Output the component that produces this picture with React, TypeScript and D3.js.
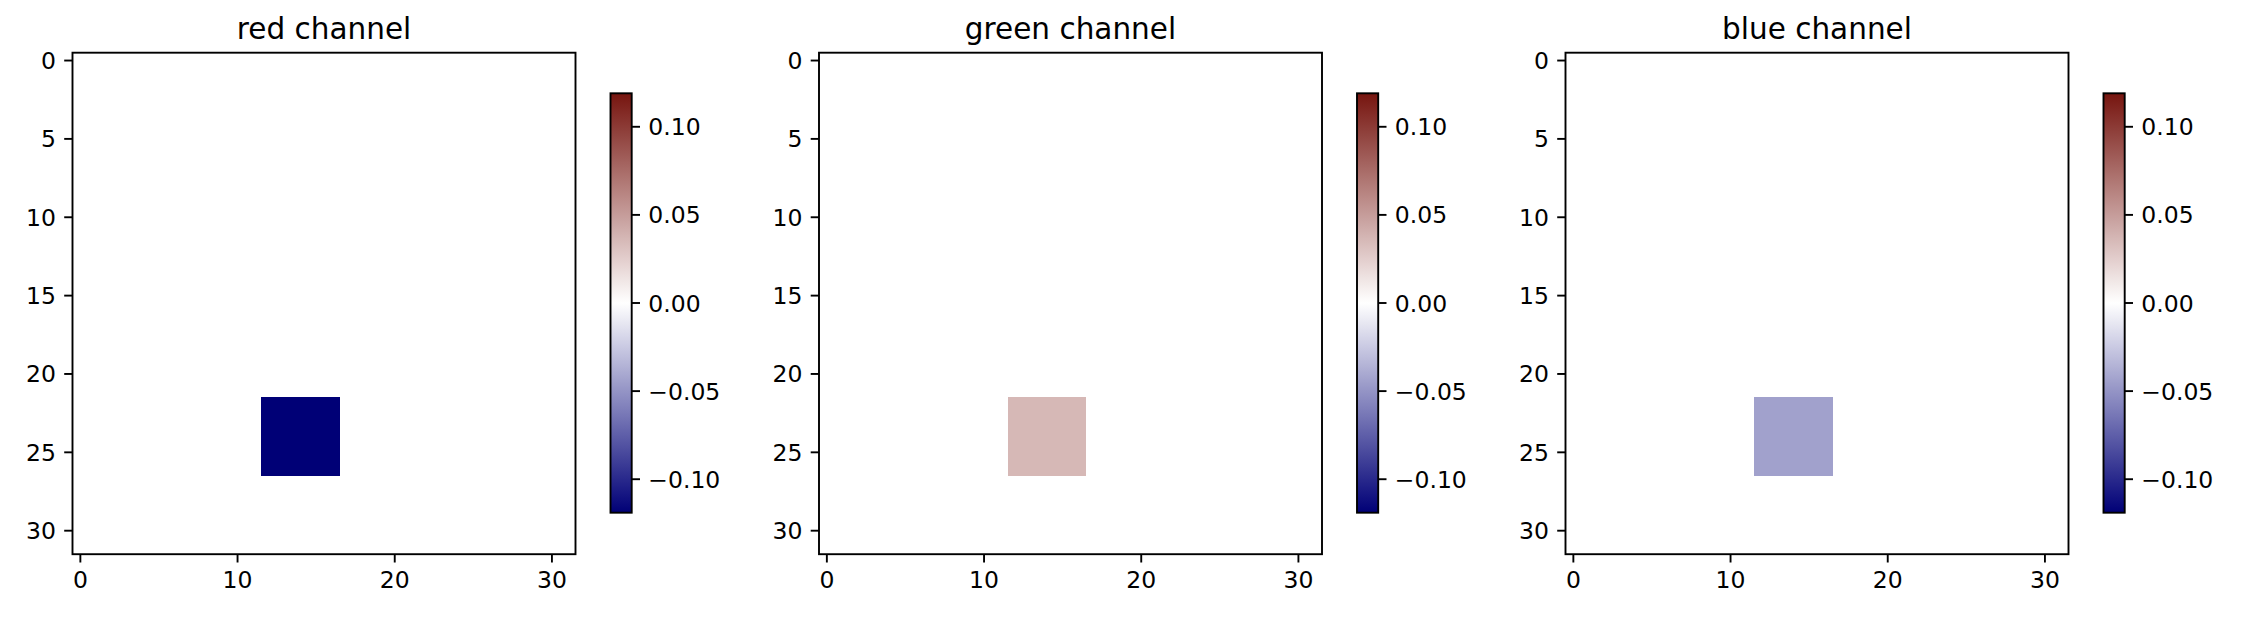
import React from "react";
import * as d3 from "d3";

// ---- data ----
const channels = ["red channel", "green channel", "blue channel"];
const patchValues = [-0.119, 0.036, -0.044]; // value inside the patch, per channel
const gridSize = 32;
const patchRows = [22, 23, 24, 25, 26];
const patchCols = [12, 13, 14, 15, 16];
const vmax = 0.119;
const axisTicks = [0, 10, 20, 30];
const yAxisTicks = [0, 5, 10, 15, 20, 25, 30];
const cbarTicks = [-0.1, -0.05, 0, 0.05, 0.1];
const cmapColors = ["#000076", "#ffffff", "#76150f"];

// ---- layout ----
const W = 2242;
const H = 620;
const panelLefts = [72.5, 819, 1565.5];
const axTop = 52.7;
const axW = 503;
const axH = 501.5;
const cbGap = 35;
const cbW = 21.2;
const cbTop = 93.3;
const cbH = 419.4;
const fs = 23.5;
const titleFs = 29.5;
const tickLen = 8.3;
const pad = 8.3;
const lw = 1.9;
const font = "'DejaVu Sans', sans-serif";

const fmtMinus = (v: number) => {
  const s = d3.format(".2f")(Math.abs(v) < 1e-9 ? 0 : v);
  return s.replace("-", "\u2212");
};

const color = d3
  .scaleLinear<string>()
  .domain([-vmax, 0, vmax])
  .range(cmapColors)
  .interpolate(d3.interpolateRgb)
  .clamp(true);

function Panel({ idx }: { idx: number }) {
  const left = panelLefts[idx];
  const x = d3.scaleLinear().domain([-0.5, gridSize - 0.5]).range([left, left + axW]);
  const y = d3.scaleLinear().domain([-0.5, gridSize - 0.5]).range([axTop, axTop + axH]);
  const cells: { r: number; c: number; v: number }[] = [];
  for (let r = 0; r < gridSize; r++) {
    for (let c = 0; c < gridSize; c++) {
      const inPatch = patchRows.includes(r) && patchCols.includes(c);
      cells.push({ r, c, v: inPatch ? patchValues[idx] : 0 });
    }
  }
  const cbLeft = left + axW + cbGap;
  const cy = d3.scaleLinear().domain([-vmax, vmax]).range([cbTop + cbH, cbTop]);
  const gradId = `grad${idx}`;
  const stops = d3.range(0, 21).map((i) => i / 20);
  return (
    <g>
      <defs>
        <linearGradient id={gradId} x1="0" y1="1" x2="0" y2="0">
          {stops.map((t) => (
            <stop key={t} offset={t} stopColor={color(-vmax + 2 * vmax * t)} />
          ))}
        </linearGradient>
      </defs>
      <text
        x={left + axW / 2}
        y={38.5}
        textAnchor="middle"
        fontSize={titleFs}
        fontFamily={font}
        fill="#000"
      >
        {channels[idx]}
      </text>
      <g shapeRendering="crispEdges">
        {cells.map((d) => (
          <rect
            key={`${d.r}-${d.c}`}
            x={x(d.c - 0.5)}
            y={y(d.r - 0.5)}
            width={x(d.c + 0.5) - x(d.c - 0.5) + 0.5}
            height={y(d.r + 0.5) - y(d.r - 0.5) + 0.5}
            fill={color(d.v)}
          />
        ))}
      </g>
      <rect x={left} y={axTop} width={axW} height={axH} fill="none" stroke="#000" strokeWidth={lw} />
      {yAxisTicks.map((t) => (
        <g key={`y${t}`}>
          <line x1={left - tickLen} x2={left} y1={y(t)} y2={y(t)} stroke="#000" strokeWidth={lw} />
          <text
            x={left - tickLen - pad}
            y={y(t) + 8.5}
            textAnchor="end"
            fontSize={fs}
            fontFamily={font}
            fill="#000"
          >
            {t}
          </text>
        </g>
      ))}
      {axisTicks.map((t) => (
        <g key={`x${t}`}>
          <line
            x1={x(t)}
            x2={x(t)}
            y1={axTop + axH}
            y2={axTop + axH + tickLen}
            stroke="#000"
            strokeWidth={lw}
          />
          <text
            x={x(t)}
            y={axTop + axH + tickLen + pad + 17.2}
            textAnchor="middle"
            fontSize={fs}
            fontFamily={font}
            fill="#000"
          >
            {t}
          </text>
        </g>
      ))}
      <rect x={cbLeft} y={cbTop} width={cbW} height={cbH} fill={`url(#${gradId})`} />
      <rect x={cbLeft} y={cbTop} width={cbW} height={cbH} fill="none" stroke="#000" strokeWidth={lw} />
      {cbarTicks.map((t) => (
        <g key={`c${t}`}>
          <line
            x1={cbLeft + cbW}
            x2={cbLeft + cbW + tickLen}
            y1={cy(t)}
            y2={cy(t)}
            stroke="#000"
            strokeWidth={lw}
          />
          <text
            x={cbLeft + cbW + tickLen + pad}
            y={cy(t) + 8.5}
            textAnchor="start"
            fontSize={fs}
            fontFamily={font}
            fill="#000"
          >
            {fmtMinus(t)}
          </text>
        </g>
      ))}
    </g>
  );
}

export default function App() {
  return (
    <svg
      width={W}
      height={H}
      style={{ position: "absolute", left: 0, top: 0, display: "block", background: "#fff" }}
    >
      <rect width={W} height={H} fill="#fff" />
      {channels.map((_, i) => (
        <Panel key={i} idx={i} />
      ))}
    </svg>
  );
}
